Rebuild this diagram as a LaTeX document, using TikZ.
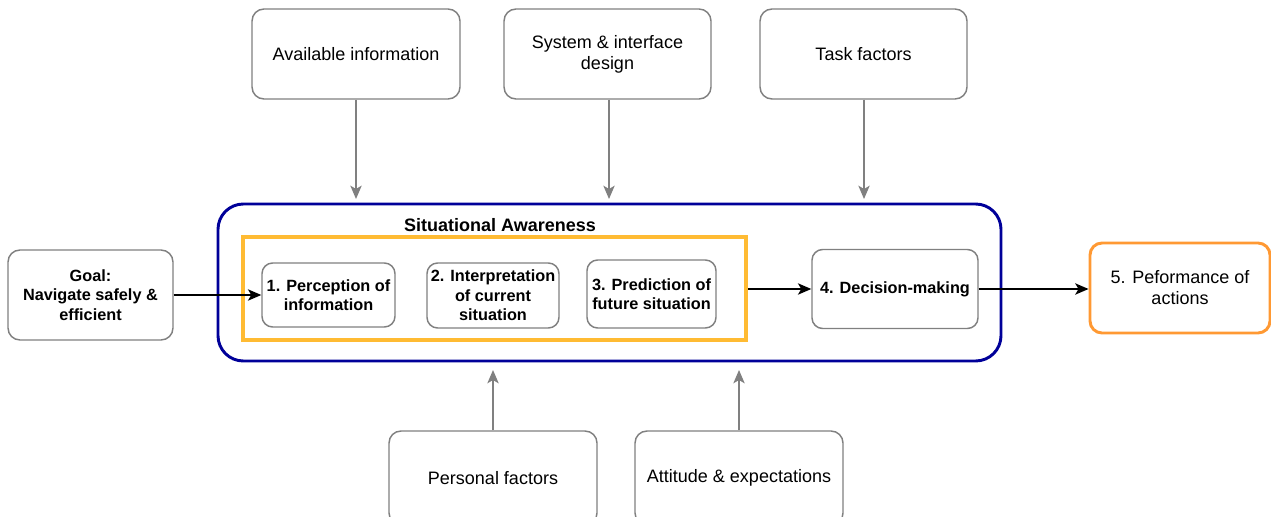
\documentclass[tikz,border=0pt]{standalone}
\usepackage{fontspec}
\setmainfont{Liberation Sans}
\usetikzlibrary{arrows.meta}
\definecolor{boxgray}{RGB}{128,128,128}
\definecolor{sablue}{RGB}{0,0,153}
\definecolor{sayellow}{RGB}{255,187,51}
\definecolor{actorange}{RGB}{255,153,51}
\begin{document}
\begin{tikzpicture}[x=0.75pt,y=-0.75pt,
  factor/.style={draw=boxgray,line width=1.1pt,rounded corners=9pt,fill=white,
    align=center,font=\fontsize{13.5}{15.8}\selectfont,inner sep=0pt},
  stage/.style={draw=boxgray,line width=1.1pt,rounded corners=8pt,fill=white,
    align=center,font=\bfseries\fontsize{12.2}{14.6}\selectfont,inner sep=0pt},
  infl/.style={draw=boxgray,line width=1.2pt,-{Stealth[length=10pt,width=8.5pt,inset=2.5pt]}},
  flow/.style={draw=black,line width=1.2pt,-{Stealth[length=10pt,width=8.5pt,inset=2.5pt]}}]
\useasboundingbox (0,0) rectangle (1271,517);
\clip (0,0) rectangle (1271,517);

% influencing factors above
\node[factor,minimum width=208*0.75pt,minimum height=90*0.75pt] (avail) at (356,54) {Available information};
\node[factor,minimum width=207*0.75pt,minimum height=90*0.75pt] (sysdes) at (607.5,54) {System \& interface\\design};
\node[factor,minimum width=207*0.75pt,minimum height=90*0.75pt] (task) at (863.5,54) {Task factors};

% influencing factors below
\node[factor,minimum width=208*0.75pt,minimum height=94*0.75pt] (pers) at (493,478) {Personal factors};
\node[factor,minimum width=208*0.75pt,minimum height=94*0.75pt] (att) at (739,478) {Attitude \& expectations};

% situational awareness container
\node[draw=sablue,line width=2.2pt,rounded corners=19pt,minimum width=783*0.75pt,minimum height=157*0.75pt,inner sep=0pt] (sa) at (609.5,282.5) {};
\node[font=\bfseries\fontsize{13.5}{15.8}\selectfont] (satitle) at (500,225) {Situational Awareness};
\node[draw=sayellow,line width=3pt,minimum width=503*0.75pt,minimum height=103*0.75pt,inner sep=0pt] (sabox) at (494.5,288.5) {};

% stages
\node[stage,minimum width=133*0.75pt,minimum height=64*0.75pt] (perc) at (328.5,295) {1. Perception of\\information};
\node[stage,minimum width=132*0.75pt,minimum height=65*0.75pt] (interp) at (493,295.5) {2. Interpretation\\of current\\situation};
\node[stage,minimum width=129*0.75pt,minimum height=68*0.75pt] (pred) at (651.5,294) {3. Prediction of\\future situation};
\node[stage,minimum width=166*0.75pt,minimum height=79*0.75pt] (dec) at (895,289) {4. Decision-making};

% goal and action
\node[stage,minimum width=165*0.75pt,minimum height=90*0.75pt,rounded corners=9pt] (goal) at (90.5,295) {Goal:\\Navigate safely \&\\efficient};
\node[factor,draw=actorange,line width=2.2pt,minimum width=180*0.75pt,minimum height=90*0.75pt] (act) at (1180,288) {5. Peformance of\\actions};

% connectors
\coordinate (availtip) at (356,199);
\coordinate (systip) at (609,199);
\coordinate (tasktip) at (864,199);
\coordinate (perstip) at (493,370);
\coordinate (atttip) at (739,370);
\draw[infl] (avail.south) -- (availtip);
\draw[infl] (sysdes.south -| systip) -- (systip);
\draw[infl] (task.south -| tasktip) -- (tasktip);
\draw[infl] (pers.north) -- (perstip);
\draw[infl] (att.north) -- (atttip);

\draw[flow] (goal.east) -- (perc.west);
\draw[flow] (sabox.east |- dec.west) -- (dec.west);
\draw[flow] (dec.east) -- (act.west |- dec.east);
\end{tikzpicture}
\end{document}
